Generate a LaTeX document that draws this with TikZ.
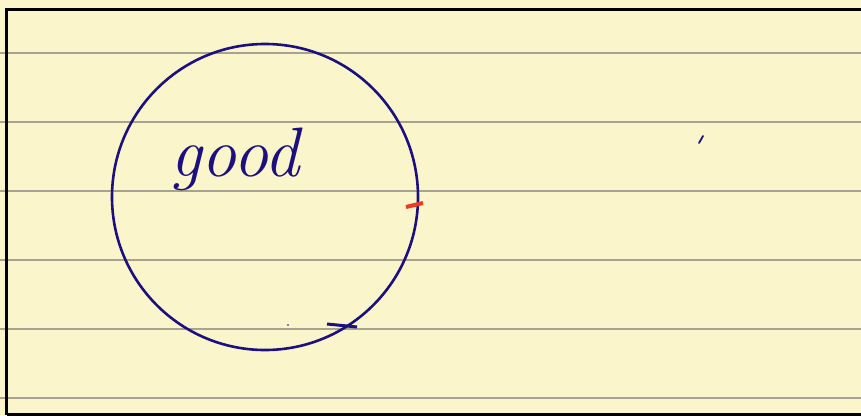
\documentclass[tikz,border=0pt]{standalone}
\definecolor{paper}{HTML}{FBF5CB}
\definecolor{rule}{HTML}{A8A390}
\definecolor{ink}{HTML}{1C1080}
\definecolor{redink}{HTML}{EE3A22}
\tikzset{
  ruled/.style={draw=rule, line width=1.2pt},
  border/.style={draw=black, line width=3pt},
  inkline/.style={draw=ink, line width=3pt, line cap=round},
}
\begin{document}
\begin{tikzpicture}[x=1pt,y=-1pt]
\fill[paper] (0,0) rectangle (861,415);
\useasboundingbox (0,0) rectangle (861,415);
\foreach \yy in {53,122,191,260,329,398} {\draw[ruled] (0,\yy) -- (861,\yy);}
\draw[border] (6.5,415) -- (6.5,9.5) -- (861,9.5);
\draw[border] (6.5,414) -- (861,414);
\node[circle, draw=ink, line width=2.6pt, minimum size=306pt, inner sep=0pt] (ring) at (265,197) {};
\node[text=ink, font=\itshape\fontsize{70}{70}\selectfont, inner sep=0pt, anchor=base west] (word) at (170,176) {good};
\coordinate (r1) at (406,207);
\coordinate (r2) at (423,203);
\draw[redink, line width=4pt] (r1) -- (r2);
\coordinate (b1) at (327,324);
\coordinate (b2) at (357,327);
\draw[ink, line width=3pt] (b1) -- (b2);
\coordinate (d1) at (699,143);
\coordinate (d2) at (703,136);
\draw[ink, line width=1.8pt, line cap=round] (d1) -- (d2);
\fill[ink] (288,325) circle (0.8pt);
\end{tikzpicture}
\end{document}
